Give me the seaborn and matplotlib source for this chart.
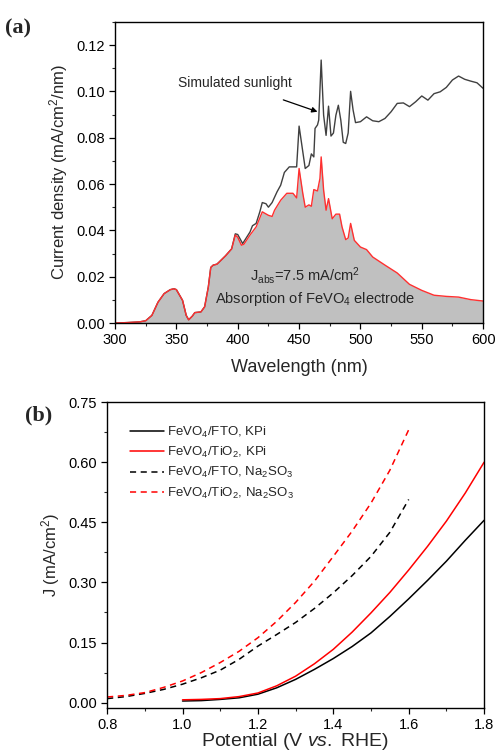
import pandas as pd
import matplotlib.pyplot as plt
from matplotlib.ticker import MultipleLocator
import seaborn as sns

# (a) absorbed photocurrent spectrum vs. simulated sunlight
wl_abs = [300, 310, 320, 325, 330, 335, 340, 345, 348, 350, 355, 358, 360, 363, 365,
          370, 373, 376, 378, 380, 383, 385, 390, 395, 398, 400, 403, 405, 410, 415,
          420, 425, 428, 430, 435, 440, 445, 448, 450, 453, 455, 458, 460, 462, 465,
          467, 468, 470, 472, 474, 477, 480, 483, 485, 488, 490, 492, 495, 500, 505,
          510, 520, 530, 540, 550, 560, 570, 580, 590, 600]
abs_vals = [0, 0.0002, 0.0005, 0.001, 0.0033, 0.009, 0.0127, 0.0144, 0.0148, 0.0144,
            0.0098, 0.0033, 0.0014, 0.003, 0.0045, 0.0048, 0.007, 0.0155, 0.024, 0.025,
            0.0254, 0.0264, 0.029, 0.032, 0.038, 0.037, 0.0336, 0.034, 0.038, 0.0415,
            0.048, 0.0465, 0.046, 0.0487, 0.053, 0.056, 0.056, 0.054, 0.0667, 0.056,
            0.050, 0.051, 0.0504, 0.0576, 0.057, 0.0624, 0.0717, 0.0573, 0.0487, 0.0537,
            0.045, 0.047, 0.047, 0.0415, 0.036, 0.0367, 0.043, 0.0357, 0.0328, 0.0317,
            0.0285, 0.025, 0.0216, 0.0167, 0.0141, 0.012, 0.0115, 0.0112, 0.0101, 0.0095]

wl_sun = [300, 310, 320, 325, 330, 335, 340, 345, 348, 350, 355, 358, 360, 363, 365,
          370, 373, 376, 378, 380, 383, 385, 390, 395,
          398, 400, 404, 410, 412, 415, 418, 420, 423, 425, 428, 432, 435, 438, 442,
          445, 448, 450, 453, 455, 458, 460, 462, 463, 465, 466, 468, 470, 472, 474,
          476, 478, 480, 482, 484, 486, 488, 490, 492, 494, 496, 500, 505, 510, 515,
          520, 525, 530, 535, 540, 545, 550, 555, 560, 565, 570, 575, 580, 585, 590,
          595, 600]
sun_vals = [0, 0.0002, 0.0005, 0.001, 0.0033, 0.009, 0.0127, 0.0144, 0.0148, 0.0144,
            0.0098, 0.0033, 0.0014, 0.003, 0.0045, 0.0048, 0.007, 0.0155, 0.024, 0.025,
            0.0254, 0.0264, 0.029, 0.032,
            0.0385, 0.0382, 0.0343, 0.0393, 0.042, 0.043, 0.048, 0.052, 0.0515, 0.050,
            0.052, 0.0566, 0.0595, 0.065, 0.0674, 0.0674, 0.0674, 0.085, 0.074, 0.0667,
            0.068, 0.073, 0.0717, 0.084, 0.0855, 0.0876, 0.1135, 0.0897, 0.081, 0.0936,
            0.0807, 0.082, 0.0897, 0.094, 0.0876, 0.078, 0.0775, 0.082, 0.100, 0.092,
            0.0865, 0.0869, 0.089, 0.0873, 0.0869, 0.0883, 0.0912, 0.0948, 0.095, 0.0934,
            0.0955, 0.098, 0.0962, 0.099, 0.0998, 0.1017, 0.1049, 0.1066, 0.1052, 0.1044,
            0.1037, 0.1013]

# (b) LSV curves
v_kpi = [1.0, 1.05, 1.1, 1.15, 1.2, 1.25, 1.3, 1.35, 1.4, 1.45, 1.5, 1.55, 1.6, 1.65,
         1.7, 1.75, 1.8]
j_fto_kpi = [0.004, 0.005, 0.008, 0.012, 0.021, 0.037, 0.058, 0.083, 0.110, 0.140,
             0.174, 0.215, 0.259, 0.305, 0.353, 0.405, 0.455]
j_tio2_kpi = [0.007, 0.008, 0.010, 0.015, 0.024, 0.042, 0.066, 0.097, 0.133, 0.176,
              0.224, 0.275, 0.331, 0.390, 0.453, 0.523, 0.600]
v_na = [0.8, 0.85, 0.9, 0.95, 1.0, 1.05, 1.1, 1.15, 1.2, 1.25, 1.3, 1.35, 1.4, 1.45,
        1.5, 1.55, 1.6]
j_fto_na = [0.010, 0.015, 0.023, 0.033, 0.046, 0.062, 0.081, 0.108, 0.141, 0.170,
            0.200, 0.235, 0.274, 0.317, 0.365, 0.425, 0.507]
j_tio2_na = [0.014, 0.018, 0.025, 0.038, 0.054, 0.075, 0.100, 0.128, 0.162, 0.203,
             0.250, 0.303, 0.365, 0.428, 0.498, 0.580, 0.681]

labels = [r"FeVO$_4$/FTO, KPi", r"FeVO$_4$/TiO$_2$, KPi",
          r"FeVO$_4$/FTO, Na$_2$SO$_3$", r"FeVO$_4$/TiO$_2$, Na$_2$SO$_3$"]

sns.set_style("ticks")
plt.rcParams['font.family'] = ['Liberation Sans', 'DejaVu Sans']
plt.rcParams['mathtext.fontset'] = 'custom'
plt.rcParams['mathtext.rm'] = 'Liberation Sans'
plt.rcParams['mathtext.it'] = 'Liberation Sans:italic'
plt.rcParams['mathtext.default'] = 'regular'
plt.rcParams['xtick.direction'] = 'out'
plt.rcParams['ytick.direction'] = 'out'

fig = plt.figure(figsize=(4.96, 7.53), dpi=100)
ax1 = fig.add_axes([0.232, 0.571, 0.742, 0.400])
ax2 = fig.add_axes([0.216, 0.060, 0.760, 0.406])

# ---- panel (a)
sun = pd.DataFrame({'wl': wl_sun, 'j': sun_vals})
ab = pd.DataFrame({'wl': wl_abs, 'j': abs_vals})
ax1.fill_between(ab['wl'], 0, ab['j'], color='#c0c0c0', lw=0)
sns.lineplot(data=sun, x='wl', y='j', ax=ax1, color='#404040', lw=1.0, sort=False)
sns.lineplot(data=ab, x='wl', y='j', ax=ax1, color='#ff3030', lw=1.0, sort=False)
ax1.set_xlim(300, 600)
ax1.set_ylim(0, 0.13)
ax1.set_xticks([300, 350, 400, 450, 500, 550, 600])
ax1.set_yticks([0.00, 0.02, 0.04, 0.06, 0.08, 0.10, 0.12])
ax1.set_yticklabels(['0.00', '0.02', '0.04', '0.06', '0.08', '0.10', '0.12'])
ax1.xaxis.set_minor_locator(MultipleLocator(25))
ax1.yaxis.set_minor_locator(MultipleLocator(0.01))
ax1.set_xlabel("Wavelength (nm)", fontsize=13, labelpad=8)
ax1.set_ylabel(r"Current density (mA/cm$^2$/nm)", fontsize=12)
ax1.annotate("Simulated sunlight", xy=(465, 0.0912), xytext=(398, 0.1035),
             ha='center', va='center', fontsize=10,
             arrowprops=dict(arrowstyle='-|>', color='black', lw=0.9,
                             mutation_scale=8, shrinkA=14, shrinkB=0))
ax1.text(455, 0.0205, r"J$_{abs}$=7.5 mA/cm$^2$", ha='center', va='center', fontsize=10.5)
ax1.text(463, 0.0102, r"Absorption of FeVO$_4$ electrode", ha='center', va='center',
         fontsize=10.5)

# ---- panel (b)
sns.lineplot(x=v_kpi, y=j_fto_kpi, ax=ax2, color='black', lw=1.1, label=labels[0])
sns.lineplot(x=v_kpi, y=j_tio2_kpi, ax=ax2, color='#ff0000', lw=1.1, label=labels[1])
sns.lineplot(x=v_na, y=j_fto_na, ax=ax2, color='black', lw=1.1, ls=(0, (4, 3)),
             label=labels[2])
sns.lineplot(x=v_na, y=j_tio2_na, ax=ax2, color='#ff0000', lw=1.1, ls=(0, (4, 3)),
             label=labels[3])
ax2.set_xlim(0.8, 1.8)
ax2.set_ylim(-0.013, 0.75)
ax2.set_xticks([0.8, 1.0, 1.2, 1.4, 1.6, 1.8])
ax2.set_xticklabels(['0.8', '1.0', '1.2', '1.4', '1.6', '1.8'])
ax2.set_yticks([0.0, 0.15, 0.30, 0.45, 0.60, 0.75])
ax2.set_yticklabels(['0.00', '0.15', '0.30', '0.45', '0.60', '0.75'])
ax2.xaxis.set_minor_locator(MultipleLocator(0.1))
ax2.yaxis.set_minor_locator(MultipleLocator(0.075))
ax2.set_xlabel(r"Potential (V $\mathit{vs.}$ RHE)", fontsize=14, labelpad=-1)
ax2.set_ylabel(r"J (mA/cm$^2$)", fontsize=12)
ax2.legend(loc='upper left', frameon=False, fontsize=9.5, handlelength=2.6,
           handletextpad=0.25, labelspacing=0.4, borderaxespad=1.3)

for ax in (ax1, ax2):
    for s in ax.spines.values():
        s.set_visible(True)
        s.set_linewidth(1.0)
        s.set_color('black')
    ax.tick_params(which='major', length=4, width=0.9, labelsize=10.5, colors='black')
    ax.tick_params(which='minor', length=2.5, width=0.8)
    ax.tick_params(top=False, right=False, which='both')

fig.text(0.01, 0.975, "(a)", fontsize=16, fontweight='bold', family='Liberation Serif',
         va='top')
fig.text(0.05, 0.462, "(b)", fontsize=16, fontweight='bold', family='Liberation Serif',
         va='top')

fig.savefig("out.png", dpi=100)
